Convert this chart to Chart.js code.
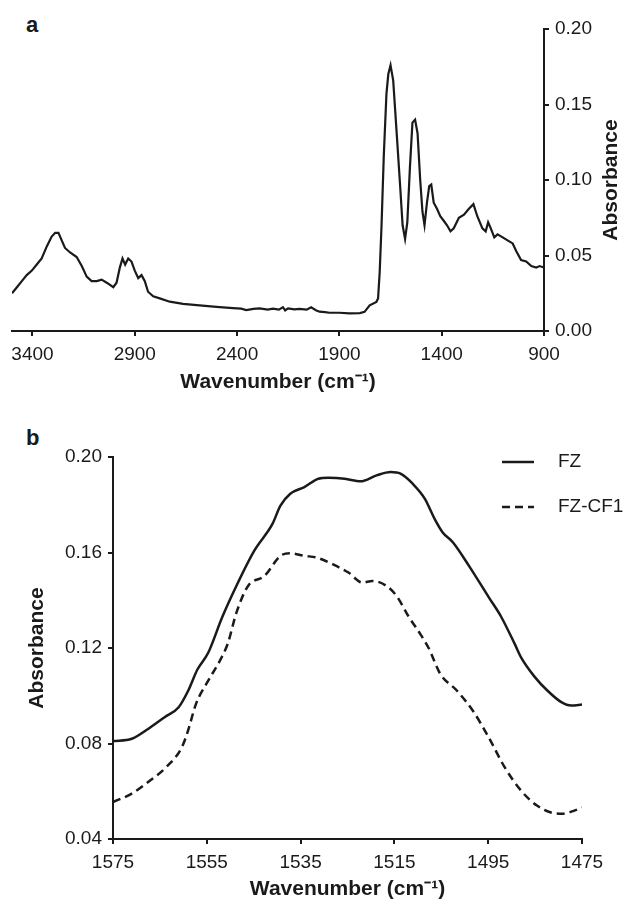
<!DOCTYPE html>
<html><head><meta charset="utf-8">
<script src="https://cdn.jsdelivr.net/npm/chart.js@4.4.1/dist/chart.umd.min.js"></script>
<style>
html,body{margin:0;padding:0;background:#fff;width:630px;height:906px;overflow:hidden;font-family:"Liberation Sans",Arial,sans-serif;}
#wa{position:absolute;left:0;top:0;width:630px;height:400px;}
#wb{position:absolute;left:0;top:400px;width:630px;height:506px;}
.panel{position:absolute;font-weight:bold;font-size:22px;color:#1a1a1a;line-height:26px;}
</style></head><body>
<div class="panel" style="left:26px;top:12px">a</div>
<div class="panel" style="left:26px;top:425px">b</div>
<div id="wa"><canvas id="ca" width="630" height="400"></canvas></div>
<div id="wb"><canvas id="cb" width="630" height="506"></canvas></div>
<script>
// ---- Panel a: FTIR spectrum ----
const waveA = [3500,3476,3452,3428,3403,3379,3355,3330,3306,3289,3273,3257,3241,3216,3184,3159,3135,3111,3086,3062,3037,3005,2989,2973,2960,2947,2932,2916,2900,2883,2867,2851,2835,2810,2778,2729,2664,2583,2501,2420,2380,2355,2320,2290,2250,2225,2195,2176,2165,2151,2120,2095,2060,2038,2015,1997,1970,1949,1900,1851,1800,1777,1752,1719,1711,1703,1694,1683,1670,1661,1650,1637,1620,1604,1591,1579,1568,1555,1543,1530,1518,1505,1494,1484,1472,1461,1451,1439,1423,1407,1390,1374,1357,1341,1316,1291,1267,1245,1226,1201,1185,1173,1160,1143,1127,1102,1078,1053,1036,1012,987,962,938,921,900];
const absA = [0.025,0.029,0.033,0.037,0.040,0.044,0.048,0.056,0.0625,0.065,0.065,0.060,0.055,0.052,0.049,0.043,0.036,0.033,0.033,0.034,0.032,0.029,0.032,0.042,0.048,0.044,0.048,0.046,0.040,0.035,0.037,0.033,0.026,0.023,0.0216,0.0194,0.018,0.017,0.016,0.0152,0.0148,0.0139,0.0146,0.015,0.0142,0.0148,0.0141,0.0158,0.0136,0.0150,0.0143,0.0146,0.0141,0.0157,0.0138,0.0128,0.0125,0.0121,0.0121,0.0117,0.0119,0.0127,0.017,0.0193,0.0215,0.039,0.070,0.116,0.157,0.170,0.176,0.166,0.131,0.098,0.070,0.061,0.072,0.109,0.138,0.140,0.131,0.100,0.079,0.070,0.085,0.096,0.097,0.085,0.081,0.076,0.073,0.070,0.066,0.068,0.075,0.077,0.081,0.084,0.076,0.068,0.066,0.072,0.068,0.062,0.064,0.062,0.060,0.058,0.053,0.047,0.046,0.043,0.042,0.043,0.042];
const ticksAX = [900,1400,1900,2400,2900,3400];
const ticksAY = [0,0.05,0.10,0.15,0.20];

// ---- Panel b: amide II region ----
const waveFZ = [1575,1571,1567.6,1564,1561,1559,1557,1554.7,1551.7,1548.7,1544.9,1541,1539.3,1537.2,1534.2,1531.2,1529.1,1525.6,1522.2,1518.8,1515.8,1513.7,1511.1,1508.5,1506.4,1504.7,1502.5,1499.1,1494.8,1492.3,1489.3,1488,1485,1482.4,1479.4,1477.3,1475];
const absFZ = [0.081,0.082,0.086,0.091,0.0952,0.102,0.111,0.118,0.133,0.146,0.1607,0.172,0.1796,0.1846,0.1874,0.1909,0.1913,0.1909,0.1898,0.1923,0.1937,0.193,0.1888,0.1825,0.174,0.1684,0.1642,0.1544,0.141,0.1333,0.1215,0.1161,0.1077,0.1022,0.0973,0.0959,0.0963];
const waveCF1 = [1575,1571,1567.1,1563.7,1560.3,1559,1557.3,1554.7,1552.2,1550.5,1548.7,1546.2,1542.7,1539.3,1537.2,1534.2,1531.6,1528.2,1524.8,1521.8,1519.7,1516.7,1514.5,1512,1509.4,1507.7,1505.2,1501.7,1498.3,1494.9,1491.5,1488,1484.6,1481.2,1479,1476.9,1475];
const absCF1 = [0.0555,0.059,0.0645,0.070,0.0785,0.0854,0.0966,0.1063,0.1147,0.122,0.1347,0.146,0.1502,0.1586,0.1597,0.1586,0.1579,0.1551,0.1516,0.1474,0.1481,0.146,0.1417,0.1333,0.1256,0.120,0.1091,0.1022,0.0938,0.0826,0.0701,0.0603,0.054,0.0509,0.0506,0.0517,0.0531];
const ticksBX = [1475,1495,1515,1535,1555,1575];
const ticksBY = [0.04,0.08,0.12,0.16,0.20];
const seriesNames = ['FZ','FZ-CF1'];
const xTitle = 'Wavenumber (cm\u207B\u00B9)';
const yTitle = 'Absorbance';

const FONT = '"Liberation Sans", Arial, Helvetica, sans-serif';
const INK = '#1a1a1a';

function pts(xs, ys){ return xs.map((x,i)=>({x:x, y:ys[i]})); }

const rightTitle = {
  id:'rightTitle',
  afterDraw(chart){
    const ctx = chart.ctx;
    ctx.save();
    ctx.translate(611, (chart.chartArea.top + chart.chartArea.bottom)/2);
    ctx.rotate(-Math.PI/2);
    ctx.font = 'bold 21px ' + FONT;
    ctx.fillStyle = INK;
    ctx.textAlign = 'center';
    ctx.textBaseline = 'middle';
    ctx.fillText(yTitle, 0, 0);
    ctx.restore();
  }
};

new Chart(document.getElementById('ca'), {
  type:'line',
  data:{datasets:[{label:'spectrum', data:pts(waveA, absA), borderColor:INK, borderWidth:2.2, pointRadius:0, tension:0, fill:false}]},
  options:{
    responsive:false, animation:false, events:[],
    layout:{padding:{left:12, top:29, right:0, bottom:0}},
    plugins:{legend:{display:false}, tooltip:{enabled:false}},
    scales:{
      x:{type:'linear', reverse:true, min:900, max:3500,
        afterBuildTicks:s=>{s.ticks = ticksAX.map(v=>({value:v}));},
        afterFit:s=>{s.height = 69;},
        border:{display:true, color:INK, width:2},
        grid:{display:true, drawOnChartArea:false, drawTicks:true, tickLength:5, lineWidth:2, color:INK},
        ticks:{color:INK, font:{family:FONT, size:19}, padding:7, maxRotation:0, autoSkip:false, callback:v=>String(v)},
        title:{display:true, text:xTitle, color:INK, font:{family:FONT, size:21, weight:'bold'}, padding:{top:0, bottom:5}}
      },
      y:{type:'linear', position:'right', min:0, max:0.2,
        afterBuildTicks:s=>{s.ticks = ticksAY.map(v=>({value:v}));},
        afterFit:s=>{s.width = 86;},
        border:{display:true, color:INK, width:2},
        grid:{display:true, drawOnChartArea:false, drawTicks:true, tickLength:5, lineWidth:2, color:INK},
        ticks:{color:INK, font:{family:FONT, size:19}, padding:6, callback:v=>Number(v).toFixed(2)}
      }
    }
  },
  plugins:[rightTitle]
});

const legendB = {
  id:'legendB',
  afterDraw(chart){
    const ctx = chart.ctx;
    chart.data.datasets.forEach((ds,i)=>{
      const y = 62 + i*45;
      ctx.save();
      ctx.strokeStyle = ds.borderColor;
      ctx.lineWidth = ds.borderWidth;
      ctx.setLineDash(ds.borderDash || []);
      ctx.beginPath(); ctx.moveTo(502, y); ctx.lineTo(534, y); ctx.stroke();
      ctx.setLineDash([]);
      ctx.fillStyle = INK;
      ctx.font = '19px ' + FONT;
      ctx.textAlign = 'left';
      ctx.textBaseline = 'middle';
      ctx.fillText(ds.label, 558, y);
      ctx.restore();
    });
  }
};

new Chart(document.getElementById('cb'), {
  type:'line',
  data:{datasets:[
    {label:seriesNames[0], data:pts(waveFZ, absFZ), borderColor:INK, borderWidth:2.5, pointRadius:0, tension:0.4, cubicInterpolationMode:'monotone', fill:false},
    {label:seriesNames[1], data:pts(waveCF1, absCF1), borderColor:INK, borderWidth:2.5, borderDash:[8,5], pointRadius:0, tension:0.4, cubicInterpolationMode:'monotone', fill:false}
  ]},
  options:{
    responsive:false, animation:false, events:[],
    layout:{padding:{left:0, top:57, right:48, bottom:0}},
    plugins:{legend:{display:false}, tooltip:{enabled:false}},
    scales:{
      x:{type:'linear', reverse:true, min:1475, max:1575,
        afterBuildTicks:s=>{s.ticks = ticksBX.map(v=>({value:v}));},
        afterFit:s=>{s.height = 67;},
        border:{display:true, color:INK, width:2},
        grid:{display:true, drawOnChartArea:false, drawTicks:true, tickLength:5, lineWidth:2, color:INK},
        ticks:{color:INK, font:{family:FONT, size:19}, padding:7, maxRotation:0, autoSkip:false, callback:v=>String(v)},
        title:{display:true, text:xTitle, color:INK, font:{family:FONT, size:21, weight:'bold'}, padding:{top:0, bottom:4}}
      },
      y:{type:'linear', position:'left', min:0.04, max:0.20,
        afterBuildTicks:s=>{s.ticks = ticksBY.map(v=>({value:v}));},
        afterFit:s=>{s.width = 113;},
        border:{display:true, color:INK, width:2},
        grid:{display:true, drawOnChartArea:false, drawTicks:true, tickLength:5, lineWidth:2, color:INK},
        ticks:{color:INK, font:{family:FONT, size:19}, padding:6, callback:v=>Number(v).toFixed(2)},
        title:{display:true, text:yTitle, color:INK, font:{family:FONT, size:21, weight:'bold'}, padding:{top:25, bottom:0}}
      }
    }
  },
  plugins:[legendB]
});
</script>
</body></html>
